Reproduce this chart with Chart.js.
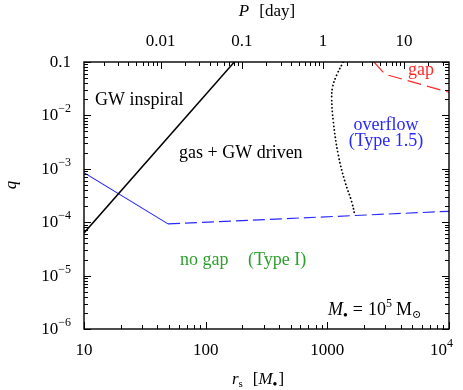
<!DOCTYPE html>
<html>
<head>
<meta charset="utf-8">
<script src="https://cdn.jsdelivr.net/npm/chart.js@4.4.1/dist/chart.umd.min.js"></script>
<style>
  html, body { margin: 0; padding: 0; background: #fff; }
  #wrap { width: 463px; height: 390px; }
</style>
</head>
<body>
<div id="wrap"><canvas id="c"></canvas></div>
<script>
// axis ranges and tick labels
const rRange = [10, 10000];
const qRange = [1e-6, 0.1];
const pRange = [Math.pow(10, -2.946), Math.pow(10, 1.554)]; // P [day] matching r_s range
const rTickValues = [10, 100, 1000, 10000];
const rTickLabels = [['10'], ['100'], ['1000'], ['10', '4']];
const qTickValues = [0.1, 1e-2, 1e-3, 1e-4, 1e-5, 1e-6];
const qTickLabels = [['0.1'], ['10', '−2'], ['10', '−3'], ['10', '−4'], ['10', '−5'], ['10', '−6']];
const pTickValues = [0.01, 0.1, 1, 10];
const pTickLabels = ['0.01', '0.1', '1', '10'];

// boundary curves (r_s, q)
const inspiralR = [10, 172];
const inspiralQ = [6.3e-5, 0.1];
const typeISolidR = [10, 49];
const typeISolidQ = [8.45e-4, 9.3e-5];
const typeIDashR = [49, 10000];
const typeIDashQ = [9.3e-5, 1.6e-4];
const overflowR = [1352, 1194, 1107, 1086, 1120, 1231, 1397, 1585, 1687];
const overflowQ = [0.1, 0.0571, 0.0344, 0.0209, 7.62e-3, 1.81e-3, 5.73e-4, 2.42e-4, 1.34e-4];
const gapR = [2417, 2978, 10000];
const gapQ = [0.1, 0.0589, 0.0271];

const BLUE = '#2828ff';
const RED = '#ff2a2a';
const GREEN = '#2ca02c';
const FAM = '"Liberation Serif", "DejaVu Serif", serif';
const F = (s, it) => (it ? 'italic ' : '') + s + 'px ' + FAM;

function pts(xs, ys) { return xs.map((v, i) => ({ x: v, y: ys[i] })); }

function drawRuns(ctx, runs, x, y, align, color) {
  let w = 0;
  runs.forEach(r => { ctx.font = r.f; w += ctx.measureText(r.t).width + (r.gap || 0); });
  let sx = align === 'center' ? x - w / 2 : align === 'right' ? x - w : x;
  ctx.fillStyle = color || '#000';
  ctx.textAlign = 'left';
  ctx.textBaseline = 'alphabetic';
  runs.forEach(r => {
    ctx.font = r.f;
    ctx.fillText(r.t, sx, y + (r.dy || 0));
    sx += ctx.measureText(r.t).width + (r.gap || 0);
  });
}

function logTicks(min, max) {
  const out = [];
  for (let d = Math.floor(Math.log10(min)) - 1; d <= Math.ceil(Math.log10(max)); d++) {
    for (let m = 1; m <= 9; m++) {
      const v = m * Math.pow(10, d);
      if (v >= min * 0.999 && v <= max * 1.001) out.push({ v: v, major: m === 1 });
    }
  }
  return out;
}

const framePlugin = {
  id: 'framePlugin',
  afterDraw(chart) {
    const { ctx, chartArea: a, scales } = chart;
    const sx = scales.x, sy = scales.y, sp = scales.p;
    ctx.save();
    ctx.strokeStyle = '#000';
    ctx.lineWidth = 1;
    ctx.beginPath();
    logTicks(rRange[0], rRange[1]).forEach(t => {
      const px = Math.round(sx.getPixelForValue(t.v)) + 0.5;
      ctx.moveTo(px, a.bottom); ctx.lineTo(px, a.bottom - (t.major ? 7 : 4));
    });
    logTicks(pRange[0], pRange[1]).forEach(t => {
      const px = Math.round(sp.getPixelForValue(t.v)) + 0.5;
      ctx.moveTo(px, a.top); ctx.lineTo(px, a.top + (t.major ? 7 : 4));
    });
    logTicks(qRange[0], qRange[1]).forEach(t => {
      const py = Math.round(sy.getPixelForValue(t.v)) + 0.5;
      ctx.moveTo(a.left, py); ctx.lineTo(a.left + (t.major ? 7 : 4), py);
      ctx.moveTo(a.right, py); ctx.lineTo(a.right - (t.major ? 7 : 4), py);
    });
    ctx.stroke();
    ctx.lineWidth = 1.4;
    ctx.strokeRect(a.left, a.top, a.right - a.left, a.bottom - a.top);

    // tick labels
    rTickValues.forEach((v, i) => {
      const px = sx.getPixelForValue(v);
      const lab = rTickLabels[i];
      if (lab.length === 1) drawRuns(ctx, [{ t: lab[0], f: F(17) }], px, 355, 'center');
      else drawRuns(ctx, [{ t: lab[0], f: F(17) }, { t: lab[1], f: F(12), dy: -8 }], px + 4, 355, 'right');
    });
    qTickValues.forEach((v, i) => {
      const py = sy.getPixelForValue(v);
      const lab = qTickLabels[i];
      const runs = [{ t: lab[0], f: F(17) }];
      if (lab.length > 1) runs.push({ t: lab[1], f: F(12), dy: -8 });
      drawRuns(ctx, runs, 71, py + 5, 'right');
    });
    pTickValues.forEach((v, i) => {
      drawRuns(ctx, [{ t: pTickLabels[i], f: F(17) }], sp.getPixelForValue(v), 46, 'center');
    });

    // axis titles
    drawRuns(ctx, [{ t: 'P', f: F(17, true), gap: 10 }, { t: '[day]', f: F(17) }], 267, 16, 'center');
    drawRuns(ctx, [
      { t: 'r', f: F(17, true) }, { t: 's', f: F(11), dy: 3, gap: 10 },
      { t: '[', f: F(17) }, { t: 'M', f: F(17, true) }, { t: '●', f: F(8), dy: 2, gap: 1 }, { t: ']', f: F(17) }
    ], 258, 384, 'center');
    ctx.save();
    ctx.translate(16, 185);
    ctx.rotate(-Math.PI / 2);
    drawRuns(ctx, [{ t: 'q', f: F(17, true) }], 0, 0, 'center');
    ctx.restore();

    // region annotations
    drawRuns(ctx, [{ t: 'GW inspiral', f: F(18) }], 95, 105, 'left');
    drawRuns(ctx, [{ t: 'gas + GW driven', f: F(18) }], 179, 158, 'left');
    drawRuns(ctx, [{ t: 'overflow', f: F(18) }], 386, 130, 'center', BLUE);
    drawRuns(ctx, [{ t: '(Type 1.5)', f: F(18) }], 386, 146, 'center', BLUE);
    drawRuns(ctx, [{ t: 'gap', f: F(18) }], 408, 75, 'left', RED);
    drawRuns(ctx, [{ t: 'no gap', f: F(18) }], 180, 265, 'left', GREEN);
    drawRuns(ctx, [{ t: '(Type I)', f: F(18) }], 248, 265, 'left', GREEN);
    drawRuns(ctx, [
      { t: 'M', f: F(18, true) }, { t: '●', f: F(8), dy: 2, gap: 5 },
      { t: '=', f: F(18), gap: 5 }, { t: '10', f: F(18) }, { t: '5', f: F(12), dy: -8, gap: 4 },
      { t: 'M', f: F(18) }, { t: '⊙', f: F(11), dy: 3 }
    ], 328, 315, 'left');
    ctx.restore();
  }
};

new Chart(document.getElementById('c'), {
  type: 'scatter',
  data: {
    datasets: [
      { data: pts(inspiralR, inspiralQ), borderColor: '#000', borderWidth: 1.5 },
      { data: pts(typeISolidR, typeISolidQ), borderColor: BLUE, borderWidth: 1.1 },
      { data: pts(typeIDashR, typeIDashQ), borderColor: BLUE, borderWidth: 1.2, borderDash: [12, 5] },
      { data: pts(overflowR, overflowQ), borderColor: '#000', borderWidth: 1.8,
        borderDash: [0.1, 3.6], borderCapStyle: 'round', tension: 0.4 },
      { data: pts(gapR, gapQ), borderColor: RED, borderWidth: 1.2, borderDash: [14, 6] }
    ].map(d => Object.assign({ showLine: true, pointRadius: 0, fill: false }, d))
  },
  options: {
    responsive: true,
    maintainAspectRatio: false,
    animation: false,
    layout: { padding: { left: 84, right: 14, top: 62, bottom: 61 } },
    plugins: { legend: { display: false }, tooltip: { enabled: false } },
    scales: {
      x: { type: 'logarithmic', min: rRange[0], max: rRange[1], display: false },
      p: { type: 'logarithmic', position: 'top', axis: 'x', min: pRange[0], max: pRange[1], display: false },
      y: { type: 'logarithmic', min: qRange[0], max: qRange[1], display: false }
    }
  },
  plugins: [framePlugin]
});
</script>
</body>
</html>
